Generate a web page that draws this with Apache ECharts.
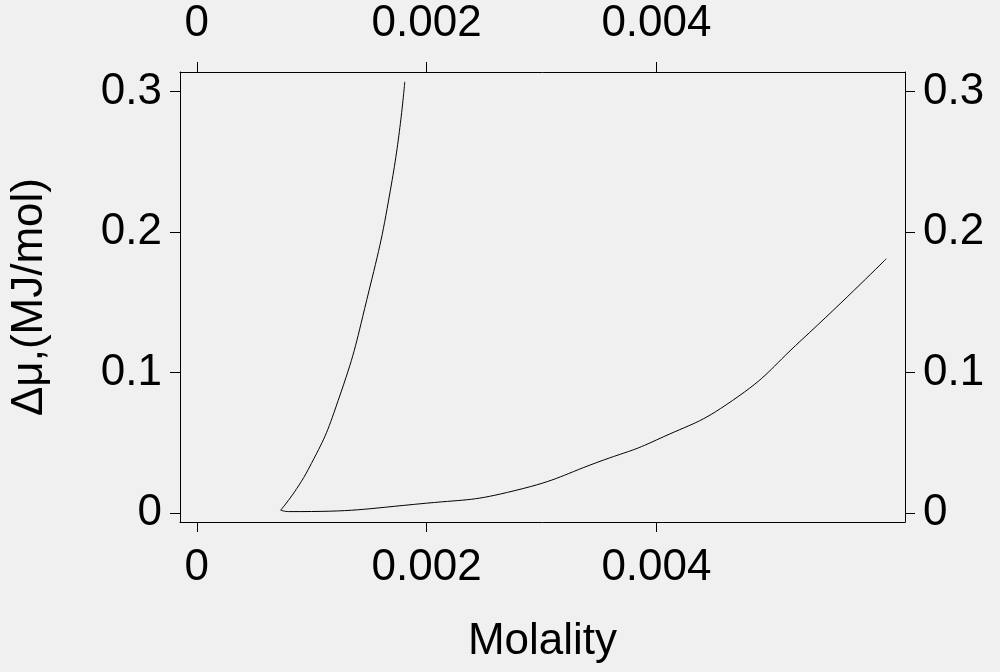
<!DOCTYPE html>
<html><head><meta charset="utf-8">
<script src="https://cdn.jsdelivr.net/npm/echarts@6/dist/echarts.min.js"></script>
<style>html,body{margin:0;background:#f0f0f0}#c{width:1000px;height:672px}</style>
</head><body><div id="c"></div>
<script>
const xTicks=[0,0.002,0.004];
const yTicks=[0,0.1,0.2,0.3];
const curve1X=[0.00073,0.00097,0.00123,0.00148,0.0017,0.00181];
const curve1Y=[0.002,0.031,0.08,0.152,0.237,0.307];
const curve2X=[0.00073,0.0008,0.002,0.00277,0.00355,0.004,0.00466,0.00526,0.006];
const curve2Y=[0.002,0.001,0.007,0.016,0.038,0.052,0.08,0.123,0.181];
const fmt=v=>String(Number(v.toFixed(4)));
const font={fontFamily:'Liberation Sans',fontSize:44,color:'#000'};
const axLine={lineStyle:{color:'#000',width:1}};
function xAx(pos){return {type:'value',position:pos,min:-0.000146,max:0.006163,
 axisLine:{show:true,onZero:false,...axLine},splitLine:{show:false},
 axisTick:{show:true,length:10,customValues:xTicks,lineStyle:{color:'#000'}},
 axisLabel:{...font,customValues:xTicks,formatter:fmt,margin:pos==='top'?26:24},
 name:pos==='bottom'?'Molality':'',nameLocation:'middle',nameGap:98,nameTextStyle:font};}
function yAx(pos){return {type:'value',position:pos,min:-0.0064,max:0.314,
 axisLine:{show:true,onZero:false,...axLine},splitLine:{show:false},
 axisTick:{show:true,length:10,customValues:yTicks,lineStyle:{color:'#000'}},
 axisLabel:{...font,customValues:yTicks,formatter:fmt,margin:18},
 name:pos==='left'?'Δμ,(MJ/mol)':'',nameLocation:'middle',nameGap:128,nameTextStyle:font};}
const chart=echarts.init(document.getElementById('c'));
chart.setOption({backgroundColor:'#f0f0f0',animation:false,
 grid:{left:170,right:95,top:72,bottom:150},
 xAxis:[xAx('bottom'),xAx('top')],yAxis:[yAx('left'),yAx('right')],
 series:[
  {type:'line',smooth:true,symbol:'none',lineStyle:{color:'#000',width:1},data:curve1X.map((x,i)=>[x,curve1Y[i]])},
  {type:'line',smooth:true,symbol:'none',lineStyle:{color:'#000',width:1},data:curve2X.map((x,i)=>[x,curve2Y[i]])}
 ]});
</script></body></html>
